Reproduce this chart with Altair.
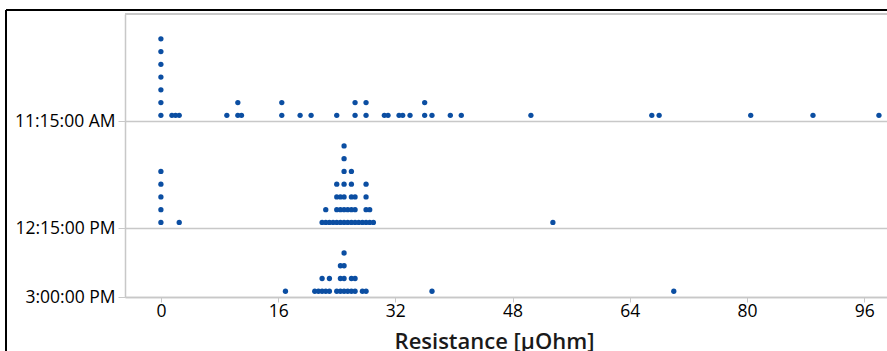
import altair as alt
import pandas as pd

# Categories (top to bottom) and the resistance readings (µOhm) for each one
times = ["11:15:00 AM", "12:15:00 PM", "3:00:00 PM"]

res_1115 = [0, 0, 0, 0, 0, 0, 0, 1.5, 2.0, 2.5, 9.0, 10.5, 10.5, 11.0, 16.5, 16.5,
            19.0, 20.5, 24.0, 26.5, 26.5, 28.0, 28.0, 30.5, 31.0, 32.5, 33.0, 34.0,
            36.0, 36.0, 37.0, 39.5, 41.0, 50.5, 67.0, 68.0, 80.5, 89.0, 98.0]

res_1215 = [0, 0, 0, 0, 0, 2.5, 22.0, 22.5, 22.5, 23.0, 23.5, 24.0, 24.0, 24.0, 24.0,
            24.5, 24.5, 24.5, 25.0, 25.0, 25.0, 25.0, 25.0, 25.0, 25.0, 25.5, 25.5,
            26.0, 26.0, 26.0, 26.0, 26.0, 26.5, 26.5, 26.5, 27.0, 27.5,
            28.0, 28.0, 28.0, 28.0, 28.5, 28.5, 29.0, 53.5]

res_1500 = [17.0, 21.0, 21.5, 22.0, 22.0, 22.5, 23.0, 23.0, 24.0, 24.5, 24.5, 24.5,
            25.0, 25.0, 25.0, 25.0, 25.5, 26.0, 26.0, 26.5, 26.5, 27.5, 28.0, 37.0, 70.0]

x_ticks = [0, 16, 32, 48, 64, 80, 96]

# ---- build the dot-plot table (stack identical readings) ----
rows = []
for t, vals in zip(times, [res_1115, res_1215, res_1500]):
    for v in vals:
        rows.append({"time": t, "resistance": v})
df = pd.DataFrame(rows)
df["stack"] = df.groupby(["time", "resistance"]).cumcount()
maxc = df.groupby("time")["stack"].max() + 1

base = {}
acc = 0.0
for t in times[::-1]:
    base[t] = round(acc, 3)
    acc += float(maxc[t]) + 1.4
top = round(acc, 3)
df["y"] = df["time"].map(base) + 0.45 + df["stack"]

label_expr = " : ".join(
    f"datum.value == {base[t]} ? '{t}'" for t in times
) + " : ''"

W, H = 762, 283
FONT = "Open Sans"
GRAY = "#c8c8c8"

points = alt.Chart(df).mark_circle(size=28, color="#0b4ea2", opacity=1).encode(
    x=alt.X(
        "resistance:Q",
        scale=alt.Scale(domain=[-4.9, 99.1], nice=False, zero=False),
        axis=alt.Axis(
            values=x_ticks, title="Resistance [µOhm]", grid=False,
            domainColor=GRAY, domainWidth=1.5, tickColor=GRAY, tickSize=5,
            labelFont=FONT, labelFontSize=17.5, labelColor="#000000", labelPadding=0,
            titleFont=FONT, titleFontSize=22, titleFontWeight=600, titleColor="#1a1a1a",
            titleX=369, titleY=51, titleBaseline="alphabetic", titleAnchor="start", titleAlign="center",
        ),
    ),
    y=alt.Y(
        "y:Q",
        scale=alt.Scale(domain=[0, top], nice=False, zero=False),
        axis=alt.Axis(
            values=[base[t] for t in times], labelExpr=label_expr, title=None,
            grid=True, gridColor=GRAY, gridWidth=1.5,
            domainColor=GRAY, domainWidth=1.5, tickColor=GRAY, tickSize=7,
            labelFont=FONT, labelFontSize=17.5, labelColor="#000000", labelPadding=3,
        ),
    ),
)

one = alt.Data(values=[{"a": 1}])
top_line = alt.Chart(one).mark_rule(color=GRAY, strokeWidth=2).encode(
    x=alt.value(0), x2=alt.value(W), y=alt.value(0)
)
frame_top = alt.Chart(one).mark_rule(color="#000000", strokeWidth=2).encode(
    x=alt.value(-119), x2=alt.value(W + 5), y=alt.value(-4)
)
frame_left = alt.Chart(one).mark_rule(color="#000000", strokeWidth=2).encode(
    x=alt.value(-119), y=alt.value(-4), y2=alt.value(H + 60)
)

chart = alt.layer(points, top_line, frame_top, frame_left).properties(
    width=W, height=H,
    padding={"left": 125, "top": 14, "right": 0, "bottom": 54},
    autosize=alt.AutoSizeParams(type="none"),
    background="#ffffff",
).configure_view(stroke=None)

chart.save("out.html", embed_options={"renderer": "svg", "actions": False})
